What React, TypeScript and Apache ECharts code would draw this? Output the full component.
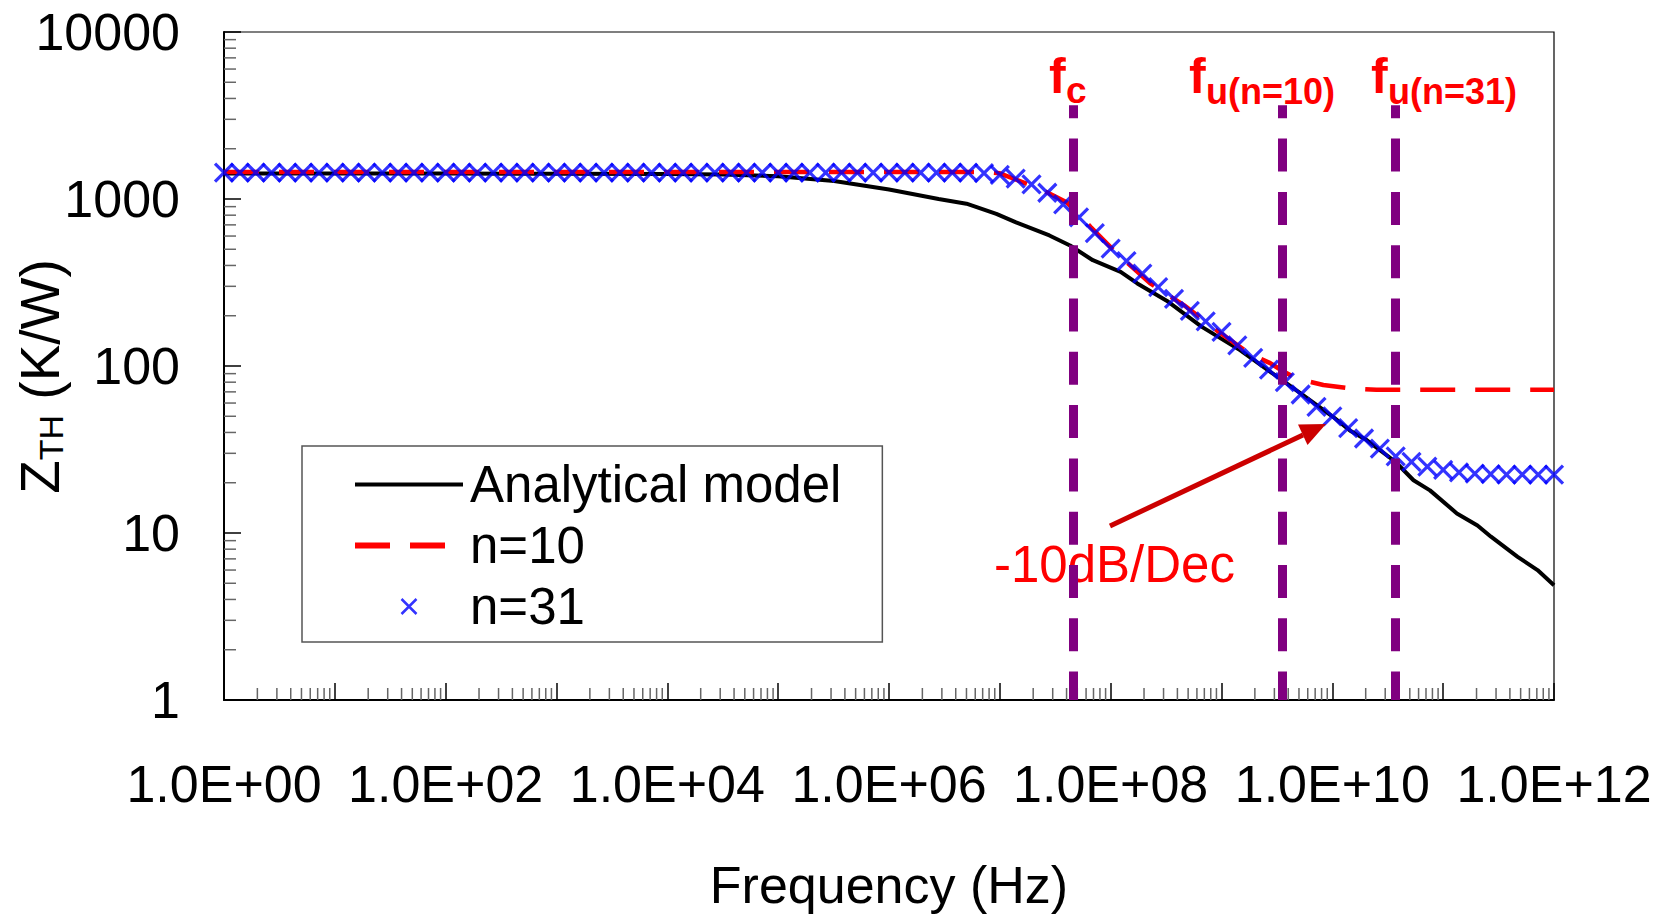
import React, { useEffect, useRef } from 'react';
import * as echarts from 'echarts';

// ---------- data (frequency in Hz, Z_TH in K/W) ----------
const analyticalFreq = [
  1, 1e1, 1e2, 1e3, 1e4, 3.2e4, 1e5, 3.2e5, 1e6, 2.8e6, 5e6, 9.3e6, 1.4e7, 2.8e7, 4.3e7,
  6.9e7, 1.23e8, 1.74e8, 3.2e8, 6.6e8, 1.48e9, 3.2e9, 5.1e9, 1e10, 1.45e10, 2.04e10,
  3.7e10, 5.4e10, 7.6e10, 1.33e11, 2.04e11, 2.7e11, 4.7e11, 7.1e11, 1e12,
];
const analyticalZ = [
  1420, 1420, 1420, 1418, 1410, 1400, 1370, 1280, 1140, 1000, 937, 815, 725, 605, 527,
  430, 366, 312, 246, 172, 124, 86, 69, 50, 41, 36,
  26.7, 20.7, 18, 13.1, 11.1, 9.5, 7.2, 6.0, 4.86,
];

const n10Freq = [
  1, 7.9e6, 1e7, 2.3e7, 4e7, 6.6e7, 1.15e8, 2.3e8, 4.6e8, 9.1e8, 1.8e9, 2.75e9, 3.6e9,
  4.8e9, 8.3e9, 1.45e10, 2.5e10, 1e12,
];
const n10Z = [
  1450, 1450, 1425, 1150, 957, 680, 469, 311, 231, 163, 118, 104, 93,
  84, 77, 73.5, 72, 72,
];

// n=31 model: sampled 7 points per decade from 1 Hz to 1 THz
const n31PointsPerDecade = 7;
const n31Z = [
  1440, 1440, 1440, 1440, 1440, 1440, 1440, 1440, 1440, 1440,
  1440, 1440, 1440, 1440, 1440, 1440, 1440, 1440, 1440, 1440,
  1440, 1440, 1440, 1440, 1440, 1440, 1440, 1440, 1440, 1440,
  1440, 1440, 1440, 1440, 1440, 1440, 1440, 1440, 1440, 1440,
  1440, 1440, 1440, 1440, 1440, 1440, 1440, 1440, 1430, 1395,
  1325, 1225, 1090, 930, 775, 625, 505, 425, 357, 297,
  252, 214, 185, 160, 133, 112, 95, 80, 67.5, 57,
  50, 42.5, 36.8, 32, 28.8, 26.7, 25, 23.9, 23.1, 22.7,
  22.5, 22.4, 22.4, 22.4, 22.4,
];

// fc, fu(n=10), fu(n=31)
const markerFreq = [4.6e7, 3.52e9, 3.7e10];

const xTickLabels = ['1.0E+00', '1.0E+02', '1.0E+04', '1.0E+06', '1.0E+08', '1.0E+10', '1.0E+12'];
const yTickLabels = ['1', '10', '100', '1000', '10000'];

const FONT = "'Liberation Sans', Arial, Helvetica, sans-serif";
const lg = (v: number) => Math.log10(v);

export default function App() {
  const ref = useRef<HTMLDivElement>(null);

  useEffect(() => {
    if (!ref.current) return;
    const chart = echarts.init(ref.current, undefined, { renderer: 'svg' });

    const n31Data = n31Z.map((z, i) => [i / n31PointsPerDecade, lg(z)]);

    const minorTicks: number[][] = [];
    for (let k = 0; k < 12; k++) for (let m = 2; m <= 9; m++) minorTicks.push([k + lg(m), 0, 0]);
    for (let k = 0; k < 4; k++) for (let m = 2; m <= 9; m++) minorTicks.push([0, k + lg(m), 1]);

    const axisCommon = {
      type: 'value',
      splitLine: { show: false },
      axisLine: { lineStyle: { color: '#000', width: 2 } },
      axisTick: { inside: true, length: 17, lineStyle: { color: '#000', width: 1.5 } },
    };

    const subStyle = { fontWeight: 'bold', fontFamily: FONT, fill: '#ff0000', align: 'left', verticalAlign: 'middle' };

    const option: any = {
      animation: false,
      backgroundColor: '#fff',
      grid: {
        left: 224, right: 119, top: 32, bottom: 217,
        show: true, borderColor: '#000', borderWidth: 1.2,
        outerBoundsMode: 'none',
      },
      xAxis: {
        ...axisCommon,
        min: 0, max: 12, interval: 1,
        axisLabel: {
          fontSize: 52, fontFamily: FONT, color: '#000', margin: 58,
          formatter: (v: number) => (Math.round(v) % 2 === 0 ? xTickLabels[Math.round(v) / 2] : ''),
        },
        name: 'Frequency (Hz)',
        nameLocation: 'middle',
        nameGap: 159,
        nameTextStyle: { fontSize: 52, fontFamily: FONT, color: '#000' },
      },
      yAxis: {
        ...axisCommon,
        min: 0, max: 4, interval: 1,
        axisLabel: {
          fontSize: 52, fontFamily: FONT, color: '#000', margin: 44,
          formatter: (v: number) => yTickLabels[Math.round(v)],
        },
      },
      legend: {
        orient: 'vertical', left: 302, top: 446,
        data: [
          { name: 'Analytical model', lineStyle: { width: 4 }, itemStyle: { opacity: 0 } },
          { name: 'n=10', lineStyle: { width: 6 }, itemStyle: { opacity: 0 } },
          { name: 'n=31', itemStyle: { borderWidth: 2.5 } },
        ],
        itemWidth: 108, itemHeight: 15, itemGap: 10,
        padding: [13, 41, 10, 50],
        borderColor: '#555', borderWidth: 1.5, backgroundColor: '#fff',
        textStyle: { fontSize: 51, fontFamily: FONT, color: '#000', padding: [0, 0, 0, 2] },
        symbolKeepAspect: true,
        selectedMode: false,
      },
      series: [
        {
          type: 'custom',
          name: 'minor ticks',
          silent: true,
          clip: false,
          z: 1,
          data: minorTicks,
          renderItem: (_p: any, api: any) => {
            const kind = api.value(2);
            const pt = api.coord([api.value(0), api.value(1)]);
            const len = 12;
            const shape = kind === 0
              ? { x1: pt[0], y1: pt[1], x2: pt[0], y2: pt[1] - len }
              : { x1: pt[0], y1: pt[1], x2: pt[0] + len, y2: pt[1] };
            return { type: 'line', shape, style: { stroke: '#666', lineWidth: 1.5 } };
          },
        },
        {
          type: 'line',
          name: 'Analytical model',
          data: analyticalFreq.map((f, i) => [lg(f), lg(analyticalZ[i])]),
          symbol: 'none',
          showSymbol: false,
          itemStyle: { color: '#000' },
          lineStyle: { color: '#000', width: 4 },
          z: 2,
        },
        {
          type: 'line',
          name: 'n=10',
          data: n10Freq.map((f, i) => [lg(f), lg(n10Z[i])]),
          symbol: 'none',
          showSymbol: false,
          itemStyle: { color: '#ff0000' },
          lineStyle: { color: '#ff0000', width: 4.5, type: [35, 20] },
          z: 3,
        },
        {
          type: 'scatter',
          name: 'n=31',
          data: n31Data,
          symbol: 'path://M0,0L10,10M10,0L0,10',
          symbolSize: 18,
          symbolKeepAspect: true,
          itemStyle: { color: '#0000ff', borderColor: '#0000ff', borderWidth: 3.2 },
          z: 4,
        },
        {
          type: 'line',
          name: 'characteristic frequencies',
          data: [],
          z: 5,
          markLine: {
            silent: true,
            symbol: ['none', 'none'],
            label: { show: false },
            lineStyle: { color: '#800080', width: 9, type: [33, 20.3], dashOffset: 20.3 },
            data: markerFreq.map((f) => [
              { coord: [lg(f), 3.561] },
              { coord: [lg(f), 0] },
            ]),
          },
        },
      ],
      graphic: [
        {
          type: 'text', x: 40, y: 376.5, rotation: Math.PI / 2, z: 10,
          style: {
            text: '{z|Z}{s|TH}{z| (K/W)}',
            align: 'center', verticalAlign: 'middle',
            rich: {
              z: { fontSize: 55, fontFamily: FONT, fill: '#000', lineHeight: 55 },
              s: { fontSize: 34, fontFamily: FONT, fill: '#000', verticalAlign: 'bottom', lineHeight: 34 },
            },
          },
        },
        // f_c
        { type: 'text', x: 1049, y: 75.7, z: 10, style: { ...subStyle, text: 'f', fontSize: 50 } },
        { type: 'text', x: 1066, y: 90.5, z: 10, style: { ...subStyle, text: 'c', fontSize: 37 } },
        // f_u(n=10)
        { type: 'text', x: 1189, y: 75.7, z: 10, style: { ...subStyle, text: 'f', fontSize: 50 } },
        { type: 'text', x: 1206, y: 91.5, z: 10, style: { ...subStyle, text: 'u(n=10)', fontSize: 36 } },
        // f_u(n=31)
        { type: 'text', x: 1371, y: 75.7, z: 10, style: { ...subStyle, text: 'f', fontSize: 50 } },
        { type: 'text', x: 1388, y: 91.5, z: 10, style: { ...subStyle, text: 'u(n=31)', fontSize: 36 } },
        // slope annotation
        { type: 'text', x: 994, y: 564, z: 1, style: { text: '-10dB/Dec', fontSize: 51, fontFamily: FONT, fill: '#ff0000', align: 'left', verticalAlign: 'middle' } },
        { type: 'line', z: 10, shape: { x1: 1110, y1: 526, x2: 1303, y2: 435 }, style: { stroke: '#cc0000', lineWidth: 5 } },
        { type: 'polygon', z: 10, shape: { points: [[1326, 424], [1307.5, 445], [1298, 424.5]] }, style: { fill: '#cc0000' } },
      ],
    };

    chart.setOption(option);
    return () => chart.dispose();
  }, []);

  return (
    <div
      ref={ref}
      style={{ position: 'fixed', left: 0, top: 0, width: 1673, height: 917, background: '#fff' }}
    />
  );
}
